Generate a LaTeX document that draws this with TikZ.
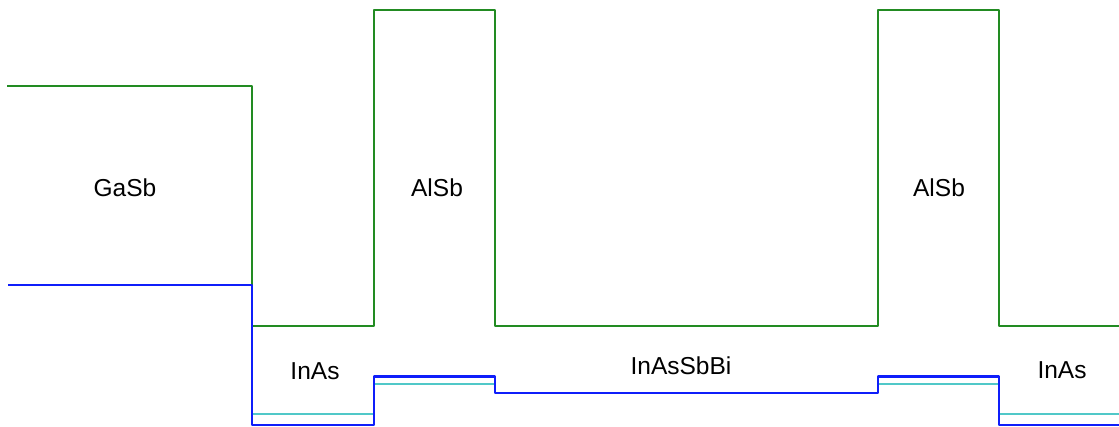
\documentclass[tikz,border=0pt]{standalone}
\usepackage{fontspec}
\setmainfont{Liberation Sans}
\definecolor{cbgreen}{RGB}{34,139,34}
\definecolor{vbblue}{RGB}{15,30,250}
\definecolor{hhcyan}{RGB}{80,200,200}
\tikzset{
  band/.style={line width=2.3pt, line join=round},
  cband/.style={band, cbgreen},
  vband/.style={band, vbblue, line width=2.7pt},
  hband/.style={band, hhcyan, line width=2.2pt},
  lbl/.style={anchor=base, inner sep=0pt, font=\fontsize{24.5}{29}\selectfont}
}
\begin{document}
\begin{tikzpicture}[x=1pt, y=-1pt]
  \useasboundingbox (0,0) rectangle (1119,427);
  % conduction band edge
  \draw[cband] (7,86) -- (252,86) -- (252,326) -- (374,326) -- (374,10)
    -- (495,10) -- (495,326) -- (878,326) -- (878,10) -- (999,10)
    -- (999,326) -- (1119,326);
  % light-hole band edge
  \draw[hband] (252,414) -- (374,414);
  \draw[hband] (374,384) -- (495,384);
  \draw[hband] (878,384) -- (999,384);
  \draw[hband] (999,414) -- (1119,414);
  % heavy-hole band edge
  \draw[vband] (8,285) -- (252,285) -- (252,425) -- (374,425) -- (374,376.5)
    -- (495,376.5) -- (495,393) -- (878,393) -- (878,376.5) -- (999,376.5)
    -- (999,425) -- (1119,425);
  % layer labels
  \node[lbl] (gasb)  at (125,197) {GaSb};
  \node[lbl] (alsbA) at (437,197) {AlSb};
  \node[lbl] (alsbB) at (939,197) {AlSb};
  \node[lbl] (inasA) at (315,379.5) {InAs};
  \node[lbl] (quat)  at (681,375) {InAsSbBi};
  \node[lbl] (inasB) at (1062,379) {InAs};
\end{tikzpicture}
\end{document}
